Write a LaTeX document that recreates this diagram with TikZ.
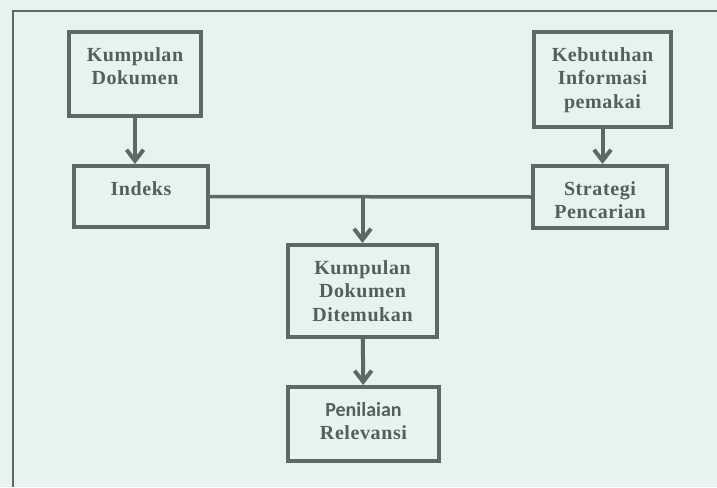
\documentclass[tikz,border=0pt]{standalone}
\usepackage{fontspec}
\setmainfont{Liberation Serif}
\newfontfamily\sansbold{Carlito}
\usepackage{xcolor}
\usepackage{tikz}
\usetikzlibrary{positioning,arrows.meta}
\definecolor{bgmint}{HTML}{E6F3EE}
\definecolor{linegray}{HTML}{5C6964}
\definecolor{textgray}{HTML}{555F5B}

\begin{document}
\begin{tikzpicture}[x=1pt,y=-1pt,
  kotak/.style={draw=linegray, line width=4pt, inner sep=0pt},
  teks/.style={inner sep=0pt, align=center, text=textgray, font=\fontsize{20}{23.5}\selectfont\bfseries\addfontfeatures{LetterSpace=3}},
  panah/.style={draw=linegray, line width=4pt, -{Straight Barb[length=11pt,width=17pt]}},
  garis/.style={draw=linegray, line width=3.5pt}]
\fill[bgmint] (0,0) rectangle (717,487);
\useasboundingbox (0,0) rectangle (717,487);
\draw[linegray, line width=2pt] (13,487) -- (13,11) -- (717,11);
% kotak
\node[kotak, minimum width=132pt, minimum height=84pt] (kd) at (135,74) {};
\node[kotak, minimum width=134pt, minimum height=61pt] (idx) at (141,196.5) {};
\node[kotak, minimum width=137pt, minimum height=95pt] (kip) at (602.5,79.5) {};
\node[kotak, minimum width=134pt, minimum height=62pt] (sp) at (600,197) {};
\node[kotak, minimum width=149pt, minimum height=92pt] (kdd) at (362.5,291) {};
\node[kotak, minimum width=151pt, minimum height=74pt] (pr) at (363.5,424) {};
% teks
\node[teks, below=17pt of kd.north] (kdt) {Kumpulan\\Dokumen};
\node[teks, below=17pt of idx.north] (idxt) {Indeks};
\node[teks, below=17pt of kip.north] (kipt) {Kebutuhan\\Informasi\\pemakai};
\node[teks, below=17pt of sp.north] (spt) {Strategi\\Pencarian};
\node[teks, below=17pt of kdd.north] (kddt) {Kumpulan\\Dokumen\\Ditemukan};
\node[teks, below=17pt of pr.north] (prt) {{\sansbold Penilaian}\\Relevansi};
% garis
\coordinate (temu) at (kdd.north |- idx.east);
\draw[garis] (idx.east) -- (sp.west);
\draw[panah] (kd.south) -- (kd.south |- idx.north);
\draw[panah] (kip.south) -- (kip.south |- sp.north);
\draw[panah] (temu) -- (kdd);
\draw[panah] (kdd) -- (pr);
\end{tikzpicture}
\end{document}
